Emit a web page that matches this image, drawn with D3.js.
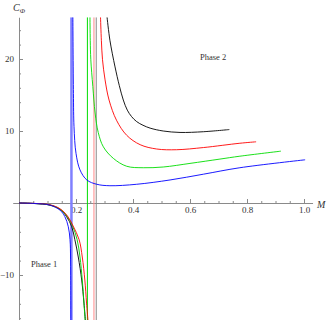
<!DOCTYPE html>
<html>
<head>
<meta charset="utf-8">
<script src="https://cdn.jsdelivr.net/npm/d3@7"></script>
<style>
  body { margin: 0; background: #fff; }
  svg { display: block; }
</style>
</head>
<body>
<div id="chart"></div>
<script>
// curve points as [M, C_phi]
const blackUpper = [[0.309, 25.8], [0.319, 22.6], [0.337, 18.9], [0.352, 16.3], [0.366, 14.3], [0.380, 12.9],
  [0.395, 12.0], [0.413, 11.3], [0.435, 10.8], [0.460, 10.4], [0.506, 10.0], [0.565, 9.8], [0.647, 9.9],
  [0.738, 10.2]];
const redUpper = [[0.286, 25.8], [0.289, 22.6], [0.293, 19.9], [0.302, 17.1], [0.316, 14.3], [0.342, 11.5],
  [0.378, 9.4], [0.425, 8.1], [0.483, 7.5], [0.553, 7.4], [0.647, 7.7], [0.775, 8.3], [0.832, 8.5]];
const greenUpper = [[0.249, 25.8], [0.250, 22.6], [0.252, 19.9], [0.259, 16.2], [0.267, 12.5], [0.278, 9.8],
  [0.296, 7.8], [0.331, 6.2], [0.378, 5.1], [0.436, 4.9], [0.506, 5.0], [0.600, 5.5], [0.705, 6.1],
  [0.775, 6.5], [0.919, 7.2]];
const blueUpper = [[0.189, 25.8], [0.191, 15.2], [0.193, 10.6], [0.200, 6.9], [0.214, 4.6], [0.238, 3.2],
  [0.273, 2.6], [0.319, 2.4], [0.413, 2.6], [0.530, 3.2], [0.647, 4.0], [0.775, 4.9], [1.004, 6.0]];

const blackLower = [[0, 0], [0.056, -0.08], [0.109, -0.3], [0.144, -0.9], [0.167, -1.9], [0.185, -3.3],
  [0.196, -5.1], [0.208, -7.5], [0.220, -10.7], [0.228, -13.9], [0.233, -16.3]];
const redLower = [[0, 0], [0.056, -0.06], [0.109, -0.25], [0.144, -0.8], [0.170, -1.8], [0.190, -3.2],
  [0.211, -5.1], [0.222, -7.5], [0.231, -10.7], [0.237, -13.9], [0.242, -16.3]];
const greenLower = [[0, 0], [0.056, -0.07], [0.109, -0.28], [0.144, -0.85], [0.168, -1.8], [0.188, -3.2],
  [0.204, -5.1], [0.214, -7.5], [0.222, -10.7], [0.228, -13.9], [0.232, -16.3]];
const blueLower = [[0, 0], [0.056, -0.07], [0.109, -0.3], [0.144, -1.0], [0.161, -1.9], [0.173, -3.3],
  [0.179, -5.1], [0.181, -7.9], [0.182, -16.3]];

// vertical jump lines at the poles
const poleM = [0.184, 0.240, 0.263, 0.271];
const poleColors = ["#8080ff", "#00dd00", "#ff8888", "#888888"];

const xMajor = [0.2, 0.4, 0.6, 0.8, 1.0];
const yMajor = [-10, 10, 20];

const W = 332, H = 320;
const x = d3.scaleLinear().domain([0, 1]).range([19, 304]);
const y = d3.scaleLinear().domain([0, -10]).range([203, 275]);
const yTop = 25.8, yBottom = -16.3;

const svg = d3.select("#chart").append("svg")
  .attr("width", W)
  .attr("height", H);

svg.append("defs").append("clipPath")
  .attr("id", "plot")
  .append("rect")
  .attr("x", x(-0.03)).attr("y", y(yTop))
  .attr("width", x(1.04) - x(-0.03))
  .attr("height", y(yBottom) - y(yTop));

// === Axes ===
const axisColor = "#8a8a8a";
const xMinor = d3.range(0.05, 1.01, 0.05).filter(v => !xMajor.some(m => Math.abs(m - v) < 1e-6));
const yMinor = d3.range(-16, 25, 2).filter(v => v !== 0 && !yMajor.includes(v));

function styleAxis(g) {
  g.select(".domain").attr("stroke", axisColor);
  g.selectAll(".tick line").attr("stroke", axisColor);
  g.selectAll(".tick text")
    .attr("fill", "#333")
    .style("font-family", "'Liberation Serif', 'DejaVu Serif', serif")
    .style("font-size", "9px");
}

svg.append("g")
  .attr("transform", `translate(0,${y(0)})`)
  .call(d3.axisBottom(x).tickValues(xMinor).tickSizeInner(-2).tickSizeOuter(0).tickFormat(""))
  .call(g => g.select(".domain").remove())
  .call(styleAxis);

svg.append("g")
  .attr("transform", `translate(0,${y(0)})`)
  .call(d3.axisBottom(x.copy().domain([-0.022, 1.03]).range([x(-0.022), x(1.03)]))
    .tickValues(xMajor).tickSizeInner(-4).tickSizeOuter(0).tickPadding(4)
    .tickFormat(d3.format(".1f")))
  .call(styleAxis);

svg.append("g")
  .attr("transform", `translate(${x(0)},0)`)
  .call(d3.axisLeft(y).tickValues(yMinor).tickSizeInner(-2).tickSizeOuter(0).tickFormat(""))
  .call(g => g.select(".domain").remove())
  .call(styleAxis);

svg.append("g")
  .attr("transform", `translate(${x(0)},0)`)
  .call(d3.axisLeft(y.copy().domain([yBottom, yTop]).range([y(yBottom), y(yTop)]))
    .tickValues(yMajor).tickSizeInner(-4).tickSizeOuter(0).tickPadding(5)
    .tickFormat(d => d < 0 ? "\u2212" + Math.abs(d) : d))
  .call(styleAxis);

// === Curves ===
const plot = svg.append("g").attr("clip-path", "url(#plot)");

plot.selectAll("line.pole")
  .data(poleM)
  .enter()
  .append("line")
  .attr("class", "pole")
  .attr("x1", d => x(d)).attr("x2", d => x(d))
  .attr("y1", y(yTop)).attr("y2", y(yBottom))
  .attr("stroke", (d, i) => poleColors[i])
  .attr("stroke-width", (d, i) => i === 0 ? 2.5 : 1);

const line = d3.line()
  .x(d => x(d[0]))
  .y(d => y(d[1]))
  .curve(d3.curveCatmullRom.alpha(0.5));

const curves = [
  { pts: blackLower, color: "#000" },
  { pts: greenLower, color: "#00cc00" },
  { pts: redLower, color: "#ff0000" },
  { pts: blueLower, color: "#0000ff" },
  { pts: blackUpper, color: "#000" },
  { pts: redUpper, color: "#ff0000" },
  { pts: greenUpper, color: "#00dd00" },
  { pts: blueUpper, color: "#0000ff" }
];

plot.selectAll("path.curve")
  .data(curves)
  .enter()
  .append("path")
  .attr("class", "curve")
  .attr("d", d => line(d.pts))
  .attr("fill", "none")
  .attr("stroke", d => d.color)
  .attr("stroke-width", 0.9);

// === Labels ===
const serif = "'Liberation Serif', 'DejaVu Serif', serif";

const yLab = svg.append("text")
  .attr("x", 13)
  .attr("y", 11)
  .style("font-family", serif)
  .style("font-style", "italic")
  .style("font-size", "10px")
  .attr("fill", "#333");
yLab.append("tspan").text("C");
yLab.append("tspan").attr("dy", 2).style("font-size", "7px").text("\u03A6");

svg.append("text")
  .attr("x", 317)
  .attr("y", 208)
  .style("font-family", serif)
  .style("font-style", "italic")
  .style("font-size", "10px")
  .attr("fill", "#333")
  .text("M");

svg.append("text")
  .attr("x", 31)
  .attr("y", 267)
  .style("font-family", serif)
  .style("font-size", "8.5px")
  .attr("fill", "#333")
  .text("Phase 1");

svg.append("text")
  .attr("x", 200)
  .attr("y", 60)
  .style("font-family", serif)
  .style("font-size", "8.5px")
  .attr("fill", "#333")
  .text("Phase 2");
</script>
</body>
</html>
